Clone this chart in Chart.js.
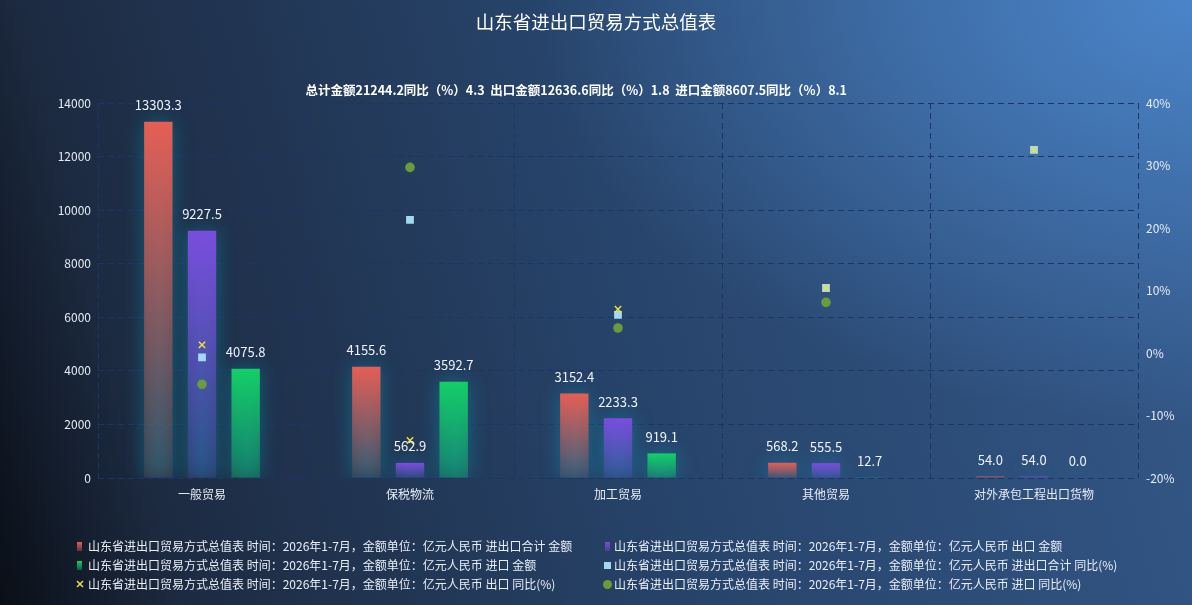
<!DOCTYPE html>
<html><head><meta charset="utf-8">
<script src="https://cdn.jsdelivr.net/npm/chart.js@4.4.1/dist/chart.umd.min.js"></script>
<style>
html,body{margin:0;padding:0;width:1192px;height:605px;overflow:hidden;}
body{background:
  radial-gradient(ellipse 55% 70% at 100% 0%, rgba(78,140,212,0.85) 0%, rgba(78,140,212,0) 100%),
  linear-gradient(75deg,#0a0f17 0%,#1d2b42 14%,#27446b 52%,#35598a 100%);
  font-family:"Noto Sans CJK SC","Noto Sans",sans-serif;}
#wrap{position:absolute;left:0;top:0;width:1192px;height:605px;}
#legend{position:absolute;left:0;top:0;width:1192px;height:605px;pointer-events:none;}
.li{position:absolute;font-size:12px;color:#e9eef6;white-space:nowrap;line-height:16px;height:16px;}
.mk{position:absolute;line-height:0;}
.mk svg{display:block;}
#sub{position:absolute;top:81px;white-space:pre;font-size:12.5px;font-weight:bold;color:#ffffff;line-height:18px;}
canvas{display:block;}
</style></head><body>
<div id="wrap"><canvas id="c" width="1192" height="605" style="width:1192px;height:605px"></canvas></div>
<div id="sub"></div>
<div id="legend"></div>
<script>
// ---- data ----
const categories = ['一般贸易','保税物流','加工贸易','其他贸易','对外承包工程出口货物'];
const totalAmount  = [13303.3, 4155.6, 3152.4, 568.2, 54.0];
const exportAmount = [9227.5, 562.9, 2233.3, 555.5, 54.0];
const importAmount = [4075.8, 3592.7, 919.1, 12.7, 0.0];
const totalYoY  = [-0.7, 21.3, 6.1, 10.4, 32.5];
const exportYoY = [1.3, -14.0, 7.0, 10.4, 32.5];
const importYoY = [-5.0, 29.7, 4.0, 8.1, null];
const summaryNames  = ['总计金额','出口金额','进口金额'];
const summaryAmount = [21244.2, 12636.6, 8607.5];
const summaryYoY    = [4.3, 1.8, 8.1];
const leftTickRange  = [0, 14000, 2000];
const rightTickRange = [-20, 40, 10];
const titleText = '山东省进出口贸易方式总值表';
const seriesPrefix = '山东省进出口贸易方式总值表 时间：2026年1-7月，金额单位：亿元人民币 ';
const seriesNames = ['进出口合计 金额','出口 金额','进口 金额','进出口合计 同比(%)','出口 同比(%)','进口 同比(%)'];

const subtitleText = summaryNames.map((n,i)=> n + summaryAmount[i].toFixed(1) + '同比（%）' + summaryYoY[i].toFixed(1)).join('  ');

function hexA(hex,a){const r=parseInt(hex.slice(1,3),16),g=parseInt(hex.slice(3,5),16),b=parseInt(hex.slice(5,7),16);return `rgba(${r},${g},${b},${a})`;}
function barGrad(color, bottomAlpha){
  return function(ctx){
    const chart = ctx.chart;
    if(!chart.chartArea || ctx.type !== 'data') return color;
    const ys = chart.scales.y;
    const top = ys.getPixelForValue(ctx.raw);
    const base = ys.getPixelForValue(0);
    if(!isFinite(top) || Math.abs(base-top) < 1) return color;
    const g = chart.ctx.createLinearGradient(0, top, 0, base);
    g.addColorStop(0, color);
    g.addColorStop(1, hexA(color, bottomAlpha));
    return g;
  };
}
const barColors = ['#e55f55','#7a4ede','#14cf69'];
const barBottomAlpha = [0.12, 0.18, 0.3];

const glowPlugin = {
  id:'glow',
  beforeDatasetsDraw(chart){
    const c = chart.ctx, ca = chart.chartArea;
    c.save();
    c.beginPath(); c.rect(ca.left, ca.top-40, ca.width, ca.height+40); c.clip();
    c.shadowColor = 'rgba(0,175,205,0.38)';
    c.shadowBlur = 20;
    c.shadowOffsetX = 10000;
    c.fillStyle = '#000';
    chart.data.datasets.forEach((ds,i)=>{
      if(ds.type !== 'bar') return;
      chart.getDatasetMeta(i).data.forEach(b=>{
        const p = b.getProps(['x','y','base','width'], true);
        const h = Math.max(Math.abs(p.base-p.y), 2);
        c.fillRect(p.x - p.width/2 - 10000, Math.min(p.y, p.base-2), p.width, h);
      });
    });
    c.restore();
  }
};
const labelPlugin = {
  id:'vlabels',
  afterDatasetsDraw(chart){
    const c = chart.ctx;
    c.save();
    c.font = '13px "Noto Sans CJK SC", "Noto Sans", sans-serif';
    c.fillStyle = '#eef3fa';
    c.textAlign = 'center';
    c.textBaseline = 'middle';
    chart.data.datasets.forEach((ds,i)=>{
      if(ds.type !== 'bar') return;
      chart.getDatasetMeta(i).data.forEach((b,j)=>{
        c.fillText(ds.data[j].toFixed(1), b.x, b.y - 16.5);
      });
    });
    c.restore();
  }
};

const FONT = '"Noto Sans CJK SC", "Noto Sans", sans-serif';
const gridColor = '#1b3566';

new Chart(document.getElementById('c'), {
  data:{
    labels: categories,
    datasets:[
      {type:'bar', label: seriesPrefix+seriesNames[0], data: totalAmount, yAxisID:'y', backgroundColor: barGrad(barColors[0], barBottomAlpha[0]), order: 10, categoryPercentage:0.63, barPercentage:0.65},
      {type:'bar', label: seriesPrefix+seriesNames[1], data: exportAmount, yAxisID:'y', backgroundColor: barGrad(barColors[1], barBottomAlpha[1]), order: 10, categoryPercentage:0.63, barPercentage:0.65},
      {type:'bar', label: seriesPrefix+seriesNames[2], data: importAmount, yAxisID:'y', backgroundColor: barGrad(barColors[2], barBottomAlpha[2]), order: 10, categoryPercentage:0.63, barPercentage:0.65},
      {type:'line', label: seriesPrefix+seriesNames[3], data: totalYoY, yAxisID:'y1', showLine:false, pointStyle:'rect', pointRadius:5.5, pointHoverRadius:5.5, backgroundColor:'#a3d9ef', borderColor:'#a3d9ef', borderWidth:0, order:3},
      {type:'line', label: seriesPrefix+seriesNames[4], data: exportYoY, yAxisID:'y1', showLine:false, pointStyle:'crossRot', pointRadius:4.5, pointHoverRadius:4.5, backgroundColor:'#eee23a', borderColor:'#eee23a', borderWidth:1.5, order:1},
      {type:'line', label: seriesPrefix+seriesNames[5], data: importYoY, yAxisID:'y1', showLine:false, pointStyle:'circle', pointRadius:4.8, pointHoverRadius:4.8, backgroundColor:'#6b9c3a', borderColor:'#6b9c3a', borderWidth:0, order:2}
    ]
  },
  options:{
    responsive:false,
    maintainAspectRatio:false,
    animation:false,
    devicePixelRatio:1,
    layout:{padding:{left:0,right:0,top:0,bottom:90}},
    plugins:{
      legend:{display:false},
      tooltip:{enabled:false},
      title:{display:true, text:titleText, color:'#ffffff', font:{family:FONT, size:18.5, weight:'normal'}, padding:{top:11,bottom:69.8}},
      subtitle:{display:false}
    },
    scales:{
      x:{
        offset:true,
        grid:{display:true, offset:true, color:gridColor, drawTicks:false},
        border:{display:false, dash:[6,4]},
        ticks:{color:'#e6ecf4', font:{family:FONT,size:12}, padding:9, maxRotation:0},
        afterFit(s){ s.height = 37; }
      },
      y:{
        position:'left', min:leftTickRange[0], max:leftTickRange[1],
        ticks:{stepSize:leftTickRange[2], color:'#e6ecf4', font:{family:FONT,size:12}, padding:7, callback:v=>String(v)},
        grid:{color:gridColor, drawTicks:false},
        border:{display:false, dash:[6,4]},
        afterFit(s){ s.width = 98; }
      },
      y1:{
        position:'right', min:rightTickRange[0], max:rightTickRange[1],
        ticks:{stepSize:rightTickRange[2], color:'#e6ecf4', font:{family:FONT,size:12}, padding:8, callback:v=>v+'%'},
        grid:{display:false, drawTicks:false},
        border:{display:false},
        afterFit(s){ s.width = 54; }
      }
    }
  },
  plugins:[glowPlugin, labelPlugin]
});
</script>
<script>
(function(){
  const sub = document.getElementById('sub');
  sub.textContent = subtitleText;
  sub.style.left = (576 - sub.offsetWidth/2) + 'px';

  const leg = document.getElementById('legend');
  const cols = [77, 605];
  const textX = [88, 614];
  const rows = [546, 565, 584];
  function marker(i){
    const m = document.createElement('div'); m.className='mk';
    if(i<3){
      m.style.width='5px'; m.style.height='9px';
      m.style.background=`linear-gradient(${barColors[i]}, ${hexA(barColors[i],0.35)})`;
      m.dataset.h=9; m.dataset.w=5;
    } else if(i===3){
      m.style.width='7px'; m.style.height='7px'; m.style.background='#a3d9ef'; m.dataset.h=7; m.dataset.w=7;
    } else if(i===4){
      m.innerHTML='<svg width="8" height="8"><line x1="1" y1="1" x2="7" y2="7" stroke="#eee23a" stroke-width="1.5"/><line x1="7" y1="1" x2="1" y2="7" stroke="#eee23a" stroke-width="1.5"/></svg>';
      m.style.width='8px'; m.style.height='8px'; m.dataset.h=8; m.dataset.w=8;
    } else {
      m.style.width='9px'; m.style.height='9px'; m.style.borderRadius='50%'; m.style.background='#6b9c3a'; m.dataset.h=9; m.dataset.w=9;
    }
    return m;
  }
  seriesNames.forEach((n,i)=>{
    const r = Math.floor(i/2), col = i%2;
    const m = marker(i);
    const w = +m.dataset.w, h = +m.dataset.h;
    m.style.left = (cols[col] + 2.5 - w/2) + 'px';
    m.style.top = (rows[r] - h/2) + 'px';
    leg.appendChild(m);
    const t = document.createElement('div'); t.className='li';
    t.textContent = seriesPrefix + n;
    t.style.left = textX[col] + 'px';
    t.style.top = (rows[r] - 8) + 'px';
    leg.appendChild(t);
  });
})();
</script>
</body></html>
